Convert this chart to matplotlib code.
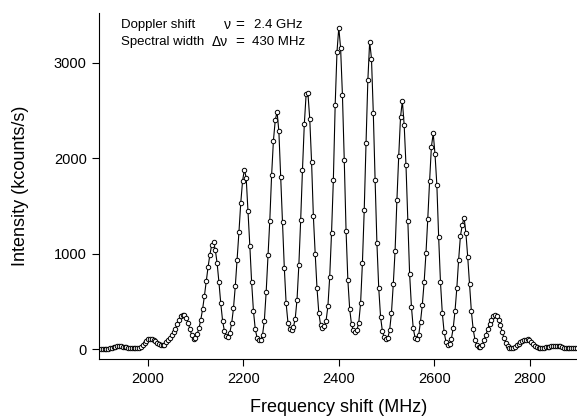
import matplotlib
matplotlib.use("Agg")
import matplotlib.pyplot as plt
import numpy as np

plt.rcParams['font.family'] = ['Liberation Sans', 'DejaVu Sans']

# sampling grid of the scan (MHz)
freq_start = 1902.2
freq_step = 3.8

# measured intensity (kcounts/s), one value per sample
intensity = [
    5, 5, 6, 7, 8, 10, 14, 20, 28, 34,
    35, 32, 27, 23, 20, 18, 16, 14, 12, 10,
    10, 14, 25, 45, 70, 90, 105, 110, 108, 100,
    85, 70, 55, 44, 40, 45, 75, 95, 120, 150,
    180, 215, 260, 305, 345, 360, 355, 330, 280, 210,
    150, 112, 118, 160, 220, 310, 420, 560, 710, 860,
    990, 1090, 1120, 1040, 900, 700, 480, 300, 190, 135,
    130, 175, 270, 430, 660, 937, 1224, 1530, 1760, 1881,
    1794, 1448, 1086, 700, 400, 210, 120, 92, 95, 150,
    300, 600, 982, 1346, 1822, 2185, 2396, 2487, 2280, 1801,
    1333, 850, 480, 280, 210, 200, 230, 320, 520, 880,
    1350, 1880, 2353, 2668, 2679, 2413, 1965, 1391, 1000, 640,
    380, 250, 220, 240, 300, 450, 760, 1217, 1769, 2553,
    3112, 3368, 3151, 2663, 1986, 1241, 720, 420, 260, 200,
    185, 200, 280, 480, 900, 1454, 2157, 2815, 3221, 3043,
    2476, 1769, 1108, 640, 340, 190, 125, 105, 120, 200,
    380, 680, 1031, 1559, 2021, 2430, 2598, 2350, 1927, 1343,
    790, 447, 220, 122, 108, 150, 290, 465, 703, 1003,
    1364, 1759, 2120, 2259, 2039, 1721, 1171, 700, 380, 180,
    80, 45, 55, 110, 220, 400, 640, 937, 1189, 1301,
    1378, 1217, 965, 680, 400, 210, 98, 42, 21, 27,
    45, 98, 150, 210, 265, 310, 345, 360, 350, 310,
    250, 180, 115, 65, 30, 15, 10, 12, 22, 40,
    60, 78, 90, 98, 100, 104, 95, 78, 55, 35,
    22, 15, 12, 14, 18, 22, 26, 28, 30, 32,
    34, 36, 34, 30, 24, 18, 14, 12, 10, 10,
    9, 10, 11,
]

freq = freq_start + freq_step * np.arange(len(intensity))

x_ticks = [2000, 2200, 2400, 2600, 2800]
y_ticks = [0, 1000, 2000, 3000]

W, H = 577, 418
fig = plt.figure(figsize=(W / 100, H / 100), dpi=100)
ax = fig.add_axes([99.3 / W, 1 - 359.3 / H, 1 - 99.3 / W, (359.3 - 13) / H])

ax.plot(freq, intensity, color="black", lw=0.8, marker="o", ms=3.2,
        mfc="white", mec="black", mew=0.7)

ax.set_xlim(1898.8, 2898.5)
ax.set_ylim(-105, 3520)
ax.set_xticks(x_ticks)
ax.set_yticks(y_ticks)
ax.spines["top"].set_visible(False)
ax.spines["right"].set_visible(False)
ax.tick_params(direction="out", length=5, width=0.8, labelsize=10.5, pad=4)
ax.set_xlabel("Frequency shift (MHz)", fontsize=13, labelpad=9.5)
ax.set_ylabel("Intensity (kcounts/s)", fontsize=13, labelpad=18)

# annotation block, placed in figure pixels
def label(px, py, s, size=9.5):
    fig.text(px / W, 1 - py / H, s, fontsize=size, va="center")

label(121, 25, "Doppler shift")
label(224, 25, "\u03bd", 10)
label(235, 25, "=", 11)
label(254, 25, "2.4 GHz")
label(121, 42, "Spectral width")
label(212, 42, "\u0394\u03bd", 10)
label(235, 42, "=", 11)
label(252, 42, "430 MHz")

fig.savefig("out.png", dpi=100)
